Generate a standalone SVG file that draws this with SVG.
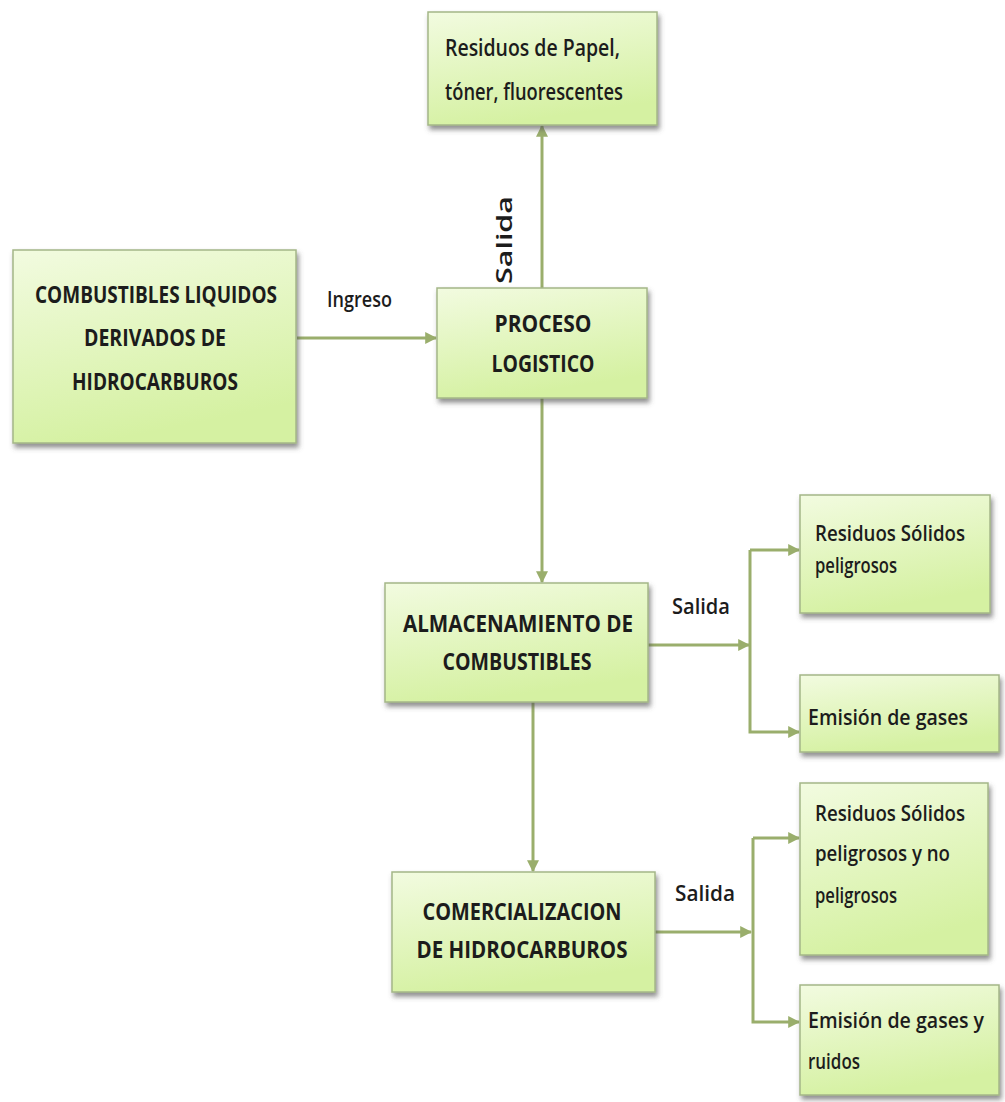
<svg xmlns="http://www.w3.org/2000/svg" width="1005" height="1102" viewBox="0 0 1005 1102">
<defs>
<linearGradient id="g" x1="0" y1="0" x2="0.3" y2="1">
<stop offset="0" stop-color="#f2fbe0"/>
<stop offset="1" stop-color="#d5f1a2"/>
</linearGradient>
<filter id="sh" x="-10%" y="-10%" width="125%" height="130%">
<feDropShadow dx="2" dy="4" stdDeviation="2.5" flood-color="#555" flood-opacity="0.65"/>
</filter>
<marker id="ar" viewBox="0 0 10 10" refX="9" refY="5" markerWidth="4" markerHeight="4" orient="auto" markerUnits="strokeWidth">
<path d="M0,0 L10,5 L0,10 z" fill="#9aae6c"/>
</marker>
<style>
.box{fill:url(#g);stroke:#a4b688;stroke-width:1.5;filter:url(#sh)}
.cap{font-family:"Open Sans","Liberation Sans",sans-serif;font-weight:700;font-size:23px;fill:#1c1c1c;text-anchor:middle}
.low{font-family:"Open Sans","Liberation Sans",sans-serif;font-weight:600;font-size:23px;fill:#1c1c1c}
.sm{font-size:21px}
.lbl{font-family:"Open Sans","Liberation Sans",sans-serif;font-weight:600;font-size:21px;fill:#1c1c1c}
.c{fill:none;stroke:#9aae6c;stroke-width:3}
</style>
</defs>
<rect width="1005" height="1102" fill="#ffffff"/>

<g id="connectors">
<line class="c" x1="297" y1="338" x2="436" y2="338" marker-end="url(#ar)"/>
<line class="c" x1="542" y1="288" x2="542" y2="126" marker-end="url(#ar)"/>
<line class="c" x1="542" y1="398" x2="542" y2="582" marker-end="url(#ar)"/>
<line class="c" x1="533" y1="702" x2="533" y2="871" marker-end="url(#ar)"/>
<line class="c" x1="648" y1="645" x2="749" y2="645" marker-end="url(#ar)"/>
<path class="c" d="M750,550 V732 H799" marker-end="url(#ar)"/>
<line class="c" x1="750" y1="550" x2="799" y2="550" marker-end="url(#ar)"/>
<line class="c" x1="655" y1="932" x2="751" y2="932" marker-end="url(#ar)"/>
<path class="c" d="M753,838 V1022 H799" marker-end="url(#ar)"/>
<line class="c" x1="753" y1="838" x2="799" y2="838" marker-end="url(#ar)"/>
<text class="lbl" x="327" y="307" textLength="65" lengthAdjust="spacingAndGlyphs">Ingreso</text>
<text class="lbl" transform="translate(512,284) rotate(-90)" textLength="88" lengthAdjust="spacingAndGlyphs">Salida</text>
<text class="lbl" x="672" y="614" textLength="58" lengthAdjust="spacingAndGlyphs">Salida</text>
<text class="lbl" x="675" y="901" textLength="60" lengthAdjust="spacingAndGlyphs">Salida</text>
</g>

<g id="n-residuos-papel">
<rect class="box" x="428" y="12" width="229" height="113"/>
<text class="low" x="445" y="56" textLength="175" lengthAdjust="spacingAndGlyphs">Residuos de Papel,</text>
<text class="low" x="445" y="100" textLength="178" lengthAdjust="spacingAndGlyphs">tóner, fluorescentes</text>
</g>

<g id="n-combustibles">
<rect class="box" x="13" y="250" width="283" height="193"/>
<text class="cap" x="156" y="303" textLength="242" lengthAdjust="spacingAndGlyphs">COMBUSTIBLES LIQUIDOS</text>
<text class="cap" x="155" y="346" textLength="142" lengthAdjust="spacingAndGlyphs">DERIVADOS DE</text>
<text class="cap" x="155" y="390" textLength="166" lengthAdjust="spacingAndGlyphs">HIDROCARBUROS</text>
</g>

<g id="n-proceso">
<rect class="box" x="437" y="288" width="210" height="110"/>
<text class="cap" x="543" y="332" textLength="97" lengthAdjust="spacingAndGlyphs">PROCESO</text>
<text class="cap" x="543" y="372" textLength="103" lengthAdjust="spacingAndGlyphs">LOGISTICO</text>
</g>

<g id="n-almacenamiento">
<rect class="box" x="385" y="583" width="263" height="119"/>
<text class="cap" x="518" y="632" textLength="230" lengthAdjust="spacingAndGlyphs">ALMACENAMIENTO DE</text>
<text class="cap" x="517" y="670" textLength="149" lengthAdjust="spacingAndGlyphs">COMBUSTIBLES</text>
</g>

<g id="n-comercializacion">
<rect class="box" x="392" y="872" width="263" height="120"/>
<text class="cap" x="522" y="920" textLength="199" lengthAdjust="spacingAndGlyphs">COMERCIALIZACION</text>
<text class="cap" x="522" y="958" textLength="211" lengthAdjust="spacingAndGlyphs">DE HIDROCARBUROS</text>
</g>

<g id="n-residuos-solidos-1">
<rect class="box" x="800" y="495" width="190" height="118"/>
<text class="low sm" x="815" y="541" textLength="150" lengthAdjust="spacingAndGlyphs">Residuos Sólidos</text>
<text class="low sm" x="815" y="573" textLength="82" lengthAdjust="spacingAndGlyphs">peligrosos</text>
</g>

<g id="n-emision-1">
<rect class="box" x="800" y="675" width="199" height="77"/>
<text class="low sm" x="808" y="725" textLength="160" lengthAdjust="spacingAndGlyphs">Emisión de gases</text>
</g>

<g id="n-residuos-solidos-2">
<rect class="box" x="800" y="783" width="188" height="172"/>
<text class="low sm" x="815" y="821" textLength="150" lengthAdjust="spacingAndGlyphs">Residuos Sólidos</text>
<text class="low sm" x="815" y="861" textLength="135" lengthAdjust="spacingAndGlyphs">peligrosos y no</text>
<text class="low sm" x="815" y="903" textLength="82" lengthAdjust="spacingAndGlyphs">peligrosos</text>
</g>

<g id="n-emision-2">
<rect class="box" x="800" y="985" width="199" height="110"/>
<text class="low sm" x="808" y="1028" textLength="176" lengthAdjust="spacingAndGlyphs">Emisión de gases y</text>
<text class="low sm" x="808" y="1069" textLength="52" lengthAdjust="spacingAndGlyphs">ruidos</text>
</g>
</svg>
